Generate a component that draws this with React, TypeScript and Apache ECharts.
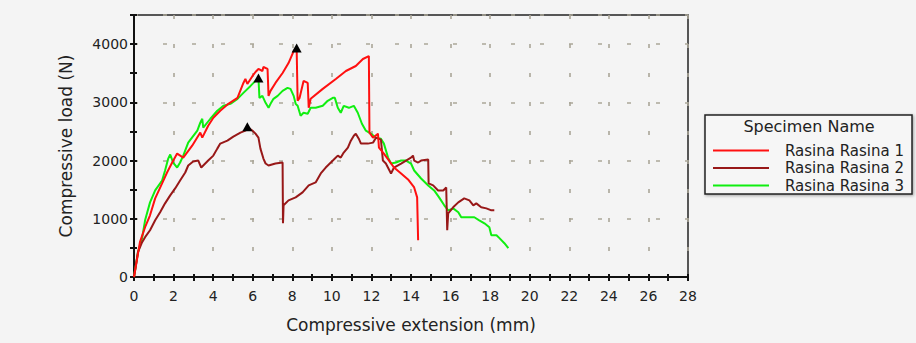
import React, { useEffect, useRef } from "react";
import * as echarts from "echarts";

const seriesNames = ["Rasina Rasina 1", "Rasina Rasina 2", "Rasina Rasina 3"];
const seriesColors = ["#ff1010", "#981818", "#10ee10"];

const rasina1: [number, number][] = [
  [0, 0], [0.3, 598], [0.56, 855], [0.81, 1060], [1.07, 1350], [1.42, 1607], [1.67, 1795],
  [1.93, 1966], [2.18, 2120], [2.49, 2051], [2.94, 2256], [3.25, 2427], [3.35, 2479],
  [3.45, 2393], [3.75, 2598], [4.01, 2735], [4.36, 2855], [4.77, 2974], [5.23, 3077],
  [5.53, 3333], [5.63, 3402], [5.73, 3316], [5.99, 3453], [6.14, 3521], [6.29, 3573],
  [6.49, 3538], [6.54, 3607], [6.75, 3573], [6.8, 3111], [6.9, 3197], [7.15, 3333],
  [7.51, 3504], [7.81, 3675], [8.07, 3880], [8.22, 3932], [8.27, 3026], [8.37, 3077],
  [8.57, 3368], [8.78, 3333], [8.83, 2906], [8.93, 3060], [9.54, 3231], [10.2, 3402],
  [10.71, 3538], [11.21, 3624], [11.57, 3744], [11.87, 3795], [11.9, 2479], [12.08, 2393],
  [12.33, 2462], [12.38, 2222], [12.63, 2120], [12.89, 2000], [13.14, 1880], [13.5, 1778],
  [13.85, 1675], [14.16, 1538], [14.31, 1368], [14.36, 632],
];

const rasina2: [number, number][] = [
  [0, 0], [0.2, 427], [0.41, 598], [0.56, 684], [0.81, 803], [1.07, 974], [1.32, 1111],
  [1.57, 1265], [1.83, 1402], [2.08, 1521], [2.33, 1658], [2.59, 1795], [2.74, 1915],
  [2.99, 1983], [3.25, 2000], [3.4, 1880], [3.5, 1915], [3.75, 2000], [4.01, 2085],
  [4.21, 2205], [4.36, 2291], [4.72, 2342], [5.02, 2410], [5.38, 2479], [5.63, 2513],
  [5.73, 2581], [5.99, 2513], [6.14, 2462], [6.29, 2393], [6.39, 2205], [6.54, 2034],
  [6.65, 1949], [6.8, 1915], [7.15, 1949], [7.51, 1966], [7.53, 923], [7.56, 1231],
  [7.81, 1316], [8.17, 1368], [8.52, 1453], [8.83, 1573], [9.18, 1624], [9.44, 1778],
  [9.69, 1880], [10.05, 2000], [10.3, 2085], [10.45, 2051], [10.6, 2137], [10.81, 2222],
  [10.96, 2342], [11.11, 2427], [11.21, 2462], [11.36, 2376], [11.47, 2291], [11.82, 2291],
  [12.08, 2308], [12.23, 2393], [12.48, 2359], [12.58, 2000], [12.73, 1949], [12.99, 1778],
  [13.14, 1880], [13.5, 1949], [13.75, 2000], [14.0, 2051], [14.1, 2085], [14.16, 2000],
  [14.36, 1966], [14.51, 2000], [14.87, 2017], [14.89, 1607], [15.12, 1573], [15.37, 1487],
  [15.63, 1487], [15.78, 1538], [15.83, 803], [15.88, 1094], [16.13, 1197], [16.39, 1282],
  [16.69, 1350], [16.95, 1316], [17.15, 1231], [17.3, 1265], [17.55, 1197], [17.81, 1179],
  [18.06, 1145], [18.21, 1145],
];

const rasina3: [number, number][] = [
  [0, 0], [0.2, 427], [0.41, 667], [0.56, 974], [0.81, 1282], [1.07, 1487], [1.42, 1658],
  [1.57, 1829], [1.73, 2034], [1.83, 2103], [1.98, 1966], [2.18, 1880], [2.33, 1966],
  [2.49, 2085], [2.74, 2308], [3.2, 2513], [3.35, 2650], [3.45, 2718], [3.5, 2564],
  [3.86, 2718], [4.21, 2855], [4.52, 2940], [4.87, 2974], [5.23, 3060], [5.53, 3162],
  [5.89, 3282], [6.14, 3368], [6.29, 3419], [6.34, 3077], [6.49, 3111], [6.65, 2991],
  [6.8, 2906], [6.9, 2974], [7.05, 3060], [7.26, 3111], [7.51, 3197], [7.76, 3248],
  [7.91, 3231], [8.07, 3111], [8.17, 2974], [8.27, 2940], [8.42, 2769], [8.57, 2821],
  [8.78, 2803], [8.93, 2906], [9.18, 2906], [9.54, 2940], [9.79, 3026], [10.05, 3077],
  [10.15, 3077], [10.3, 2906], [10.45, 2821], [10.6, 2940], [10.86, 2906], [11.11, 2940],
  [11.31, 2821], [11.52, 2632], [11.72, 2513], [11.97, 2462], [12.23, 2393], [12.48, 2376],
  [12.63, 2291], [12.84, 2051], [12.99, 1949], [13.24, 1966], [13.5, 2000], [13.75, 2000],
  [14.0, 1949], [14.16, 1829], [14.51, 1692], [14.87, 1573], [15.17, 1487], [15.42, 1368],
  [15.68, 1231], [15.88, 1145], [16.13, 1179], [16.39, 1111], [16.54, 1026], [16.89, 1026],
  [17.2, 1026], [17.45, 974], [17.71, 923], [17.96, 855], [18.06, 718], [18.32, 718],
  [18.47, 667], [18.72, 581], [18.92, 496],
];

const peakPoints: [number, number][] = [
  [8.22, 3932],
  [5.73, 2581],
  [6.29, 3419],
];

const FONT = "DejaVu Sans";

export default function App() {
  const ref = useRef<HTMLDivElement>(null);

  useEffect(() => {
    if (!ref.current) return;
    const chart = echarts.init(ref.current, null, { renderer: "svg" });
    const allData = [rasina1, rasina2, rasina3];
    const gridDash = { color: "#aaa698", width: 1.6, type: [4, 25] as any };

    const axisCommonX = {
      type: "value" as const,
      min: 0,
      max: 28,
      interval: 2,
    };
    const axisCommonY = {
      type: "value" as const,
      min: 0,
      max: 4500,
      interval: 1000,
    };

    chart.setOption({
      animation: false,
      backgroundColor: "#f4f4f4",
      grid: {
        left: 134,
        right: 228,
        top: 15,
        bottom: 66,
        show: true,
        borderColor: "#222",
        borderWidth: 1.5,
        backgroundColor: "transparent",
      },
      xAxis: [
        {
          ...axisCommonX,
          position: "bottom",
          name: "Compressive extension (mm)",
          nameLocation: "middle",
          nameGap: 39,
          nameTextStyle: { fontFamily: FONT, fontSize: 17, color: "#222" },
          axisLine: { show: true, lineStyle: { color: "#111", width: 2 } },
          axisTick: { show: true, length: 4, lineStyle: { color: "#111", width: 2 } },
          minorTick: { show: true, splitNumber: 2, length: 4, lineStyle: { color: "#111", width: 2 } },
          axisLabel: { fontFamily: FONT, fontSize: 14, color: "#222", margin: 12 },
          splitLine: { show: true, lineStyle: gridDash },
        },
        {
          ...axisCommonX,
          position: "bottom",
          axisLine: { show: false },
          axisTick: { show: true, inside: true, length: 3, lineStyle: { color: "#111", width: 2 } },
          minorTick: { show: true, splitNumber: 2, length: 3, lineStyle: { color: "#111", width: 2 } },
          axisLabel: { show: false },
          splitLine: { show: false },
        },
      ],
      yAxis: [
        {
          ...axisCommonY,
          position: "left",
          name: "Compressive load (N)",
          nameLocation: "middle",
          nameGap: 60,
          nameTextStyle: { fontFamily: FONT, fontSize: 17, color: "#222" },
          axisLine: { show: true, lineStyle: { color: "#111", width: 2 } },
          axisTick: { show: true, length: 4, lineStyle: { color: "#111", width: 2 } },
          minorTick: { show: true, splitNumber: 2, length: 4, lineStyle: { color: "#111", width: 2 } },
          axisLabel: {
            fontFamily: FONT,
            fontSize: 14,
            color: "#222",
            margin: 6,
            formatter: (v: number) => (v > 4000 ? "" : String(v)),
          },
          splitLine: { show: true, lineStyle: gridDash },
        },
        {
          ...axisCommonY,
          position: "left",
          axisLine: { show: false },
          axisTick: { show: true, inside: true, length: 3, lineStyle: { color: "#111", width: 2 } },
          minorTick: { show: true, splitNumber: 2, length: 3, lineStyle: { color: "#111", width: 2 } },
          axisLabel: { show: false },
          splitLine: { show: false },
        },
      ],
      legend: {
        data: seriesNames,
        orient: "vertical",
        left: 708,
        top: 138,
        itemWidth: 56,
        itemHeight: 2,
        itemGap: 2.5,
        icon: "rect",
        textStyle: {
          fontFamily: FONT,
          fontSize: 15,
          color: "#222",
          padding: [0, 0, 0, 11],
          lineHeight: 14,
        },
      },
      graphic: [
        {
          type: "rect",
          z: 0,
          shape: { x: 705, y: 115, width: 207, height: 79 },
          style: {
            fill: "#f6f6f6",
            stroke: "#222",
            lineWidth: 1.5,
            shadowBlur: 3,
            shadowColor: "rgba(0,0,0,0.35)",
            shadowOffsetX: 1,
            shadowOffsetY: 1,
          },
        },
        {
          type: "text",
          z: 10,
          x: 809,
          y: 126,
          style: {
            text: "Specimen Name",
            fontFamily: FONT,
            fontSize: 16,
            fill: "#222",
            textAlign: "center",
            textVerticalAlign: "middle",
          },
        },
      ],
      series: seriesNames.map((name, i) => ({
        name,
        type: "line",
        data: allData[i],
        xAxisIndex: 0,
        yAxisIndex: 0,
        showSymbol: false,
        symbol: "none",
        lineStyle: { color: seriesColors[i], width: 2 },
        itemStyle: { color: seriesColors[i] },
        markPoint: {
          symbol: "triangle",
          symbolSize: [10, 9],
          itemStyle: { color: "#000" },
          label: { show: false },
          data: [{ coord: peakPoints[i] }],
        },
        z: 3 - i,
      })),
    });

    return () => chart.dispose();
  }, []);

  return (
    <div
      ref={ref}
      style={{ position: "absolute", left: 0, top: 0, width: 916, height: 343, background: "#f4f4f4" }}
    />
  );
}
